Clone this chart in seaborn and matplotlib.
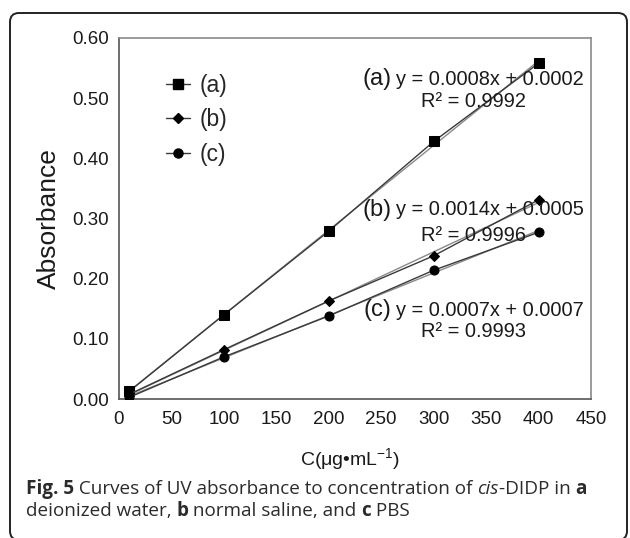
import numpy as np
import pandas as pd
import matplotlib
matplotlib.use("Agg")
import matplotlib.pyplot as plt
import seaborn as sns
from matplotlib.patches import FancyBboxPatch
from matplotlib.transforms import IdentityTransform
from matplotlib.lines import Line2D
from matplotlib.offsetbox import TextArea, HPacker, AnchoredOffsetbox

# ---------------- data ----------------
conc = [10, 100, 200, 300, 400]
abs_a = [0.013, 0.140, 0.279, 0.428, 0.558]
abs_b = [0.008, 0.082, 0.163, 0.238, 0.331]
abs_c = [0.003, 0.070, 0.138, 0.214, 0.277]
series_names = ["(a)", "(b)", "(c)"]
eq_texts = ["y = 0.0008x + 0.0002", "y = 0.0014x + 0.0005", "y = 0.0007x + 0.0007"]
r2_texts = ["R\u00b2 = 0.9992", "R\u00b2 = 0.9996", "R\u00b2 = 0.9993"]
x_ticks = [0, 50, 100, 150, 200, 250, 300, 350, 400, 450]
y_ticks = [0.0, 0.1, 0.2, 0.3, 0.4, 0.5, 0.6]

df = pd.DataFrame({
    "C": conc * 3,
    "A": abs_a + abs_b + abs_c,
    "series": sum([[n] * len(conc) for n in series_names], []),
})

# ---------------- style ----------------
sns.set_theme(style="white")
plt.rcParams["font.family"] = ["Liberation Sans", "DejaVu Sans"]
plt.rcParams["mathtext.fontset"] = "custom"
plt.rcParams["mathtext.rm"] = "Liberation Sans"
plt.rcParams["mathtext.it"] = "Liberation Sans:italic"

fig = plt.figure(figsize=(6.3, 5.38), dpi=100)
ax = fig.add_axes([119 / 630, 1 - 399 / 538, 472 / 630, 361 / 538])

markers = {"(a)": "s", "(b)": "D", "(c)": "o"}
msizes = {"(a)": 7.5, "(b)": 5.0, "(c)": 6.5}
line_col = "#3a3a3a"

# fitted trendlines (light gray), computed from the data
for name, ys in zip(series_names, [abs_a, abs_b, abs_c]):
    k, b = np.polyfit(conc, ys, 1)
    xs = np.array([conc[0], conc[-1]])
    ax.plot(xs, k * xs + b, color="#8a8a8a", lw=1.0, zorder=2)

sns.lineplot(data=df, x="C", y="A", hue="series", style="series",
             markers=markers, dashes=False, palette=[line_col] * 3,
             linewidth=1.0, ax=ax, legend=False, zorder=3,
             markeredgecolor="black", markerfacecolor="black")
for ln, name in zip([l for l in ax.get_lines() if len(l.get_xdata()) == len(conc)], series_names):
    ln.set_markersize(msizes[name])
    ln.set_markerfacecolor("black")
    ln.set_markeredgecolor("black")

ax.set_xlim(0, 450)
ax.set_ylim(0, 0.6)
ax.set_xticks(x_ticks)
ax.set_yticks(y_ticks)
ax.set_yticklabels([f"{v:.2f}" for v in y_ticks])
ax.tick_params(axis="both", direction="in", length=4, width=1, color="#666666",
               labelsize=13.5, labelcolor="#1a1a1a")
ax.tick_params(axis="x", pad=9)
ax.tick_params(axis="y", pad=7)
for side in ["left", "bottom"]:
    ax.spines[side].set_color("#555555")
    ax.spines[side].set_linewidth(1.2)
for side in ["top", "right"]:
    ax.spines[side].set_color("#8a8a8a")
    ax.spines[side].set_linewidth(1.2)

ax.set_xlabel("C(\u03bcg\u2022mL$^{\\mathregular{-1}}$)", fontsize=14, labelpad=12, color="#1a1a1a")
ax.xaxis.set_label_coords(0.49, -0.13)
ax.set_ylabel("Absorbance", fontsize=19, labelpad=8, color="#1a1a1a")

# legend
handles = [Line2D([0], [0], color=line_col, lw=1.0, marker=markers[n],
                  markersize={"(a)": 6.5, "(b)": 5, "(c)": 6.5}[n],
                  markerfacecolor="black", markeredgecolor="black") for n in series_names]
ax.legend(handles, series_names, loc="center left", bbox_to_anchor=(0.1, 0.773),
          frameon=False, fontsize=16.5, handlelength=1.05, handletextpad=0.4,
          labelspacing=0.5, borderpad=0, borderaxespad=0)

# equation annotations
lab_pos = [(0.578, 0.886), (0.578, 0.524), (0.578, 0.2465)]
r2_pos = [(0.752, 0.823), (0.752, 0.454), (0.752, 0.1856)]
for name, eq, r2, (lx, ly), (rx, ry) in zip(series_names, eq_texts, r2_texts, lab_pos, r2_pos):
    ax.text(lx, ly, name, transform=ax.transAxes, ha="right", va="center",
            fontsize=17, color="#1a1a1a", zorder=4)
    ax.text(lx + 0.009, ly, eq, transform=ax.transAxes, ha="left", va="center",
            fontsize=14.4, color="#1a1a1a", zorder=4)
    ax.text(rx, ry, r2, transform=ax.transAxes, ha="center", va="center",
            fontsize=14.4, color="#1a1a1a", zorder=4)

# caption with mixed styles
cap_font = ["Open Sans", "DejaVu Sans"]
def cap_line(parts):
    boxes = [TextArea(t, textprops=dict(family=cap_font, fontsize=13.6, color="#2b2b2b", **kw))
             for t, kw in parts]
    return HPacker(children=boxes, align="baseline", pad=0, sep=0)

line1 = cap_line([("Fig. 5", dict(weight="bold")),
                  (" Curves of UV absorbance to concentration of ", {}),
                  ("cis", dict(style="italic")),
                  ("-DIDP in ", {}),
                  ("a", dict(weight="bold"))])
line2 = cap_line([("deionized water, ", {}),
                  ("b", dict(weight="bold")),
                  (" normal saline, and ", {}),
                  ("c", dict(weight="bold")),
                  (" PBS", {})])
for box, yc in [(line1, 1 - 489 / 538), (line2, 1 - 511 / 538)]:
    ab = AnchoredOffsetbox(loc="center left", child=box, pad=0, borderpad=0, frameon=False,
                           bbox_to_anchor=(26 / 630, yc), bbox_transform=fig.transFigure)
    fig.add_artist(ab)

# rounded outer frame
frame = FancyBboxPatch((10, -2), 617, 527, boxstyle="round,pad=0,rounding_size=9",
                       transform=IdentityTransform(), fill=False, edgecolor="#222222",
                       linewidth=1.4, clip_on=False)
fig.add_artist(frame)

fig.savefig("out.png", dpi=100)
